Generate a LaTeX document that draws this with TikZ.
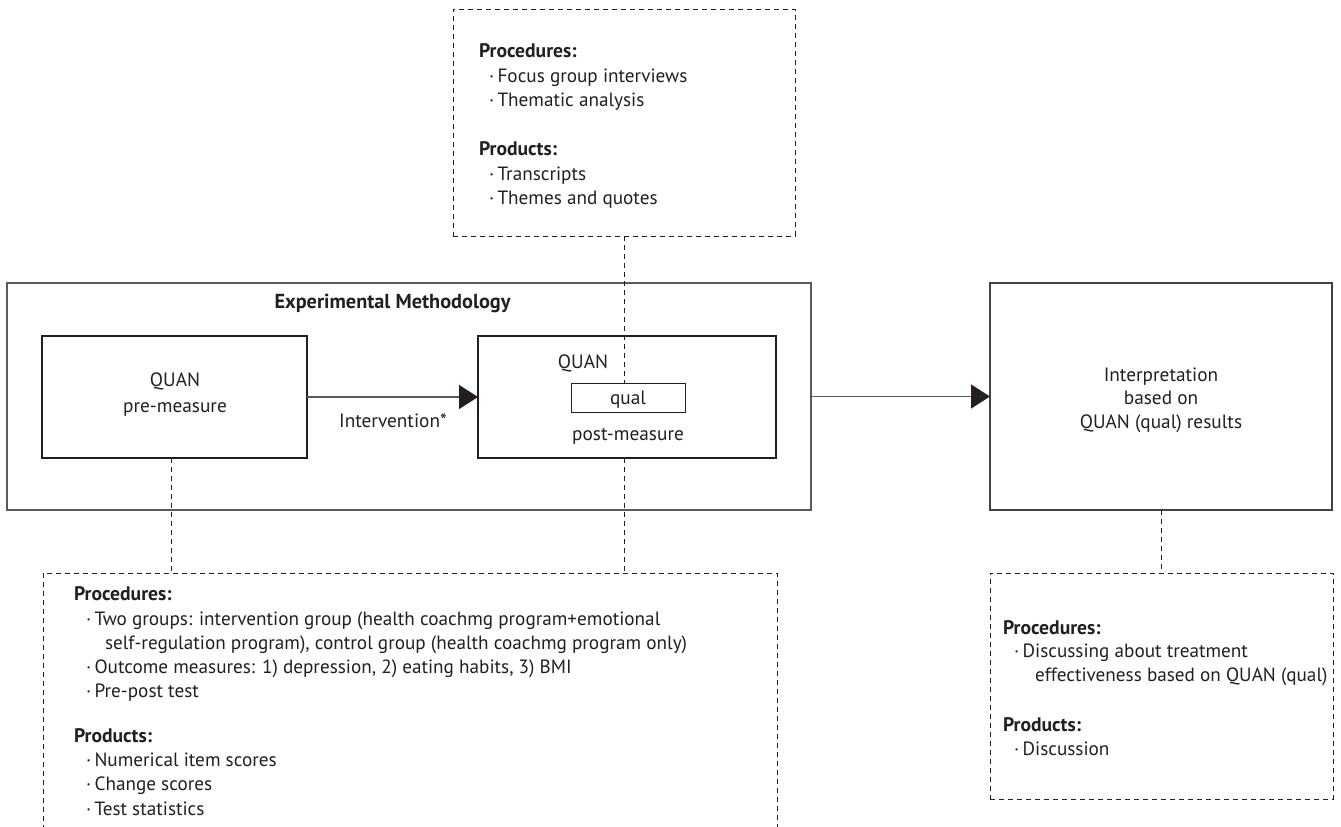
\documentclass[tikz,border=0pt]{standalone}
\usepackage{fontspec}
\setmainfont{PT Sans}
\usetikzlibrary{arrows.meta}
\definecolor{ink}{HTML}{231F20}
\definecolor{frame}{HTML}{58595B}
\newcommand{\bul}{\textperiodcentered\hspace{0.18em}}
\begin{document}
\begin{tikzpicture}[x=1pt,y=-1pt,
  every node/.style={inner sep=0pt, outer sep=0pt, text=ink},
  solidbox/.style={draw=ink, line width=1.1pt},
  graybox/.style={draw=frame, line width=1.3pt},
  dashbox/.style={draw=ink, line width=0.9pt, dash pattern=on 5pt off 4pt},
  dashline/.style={draw=ink, line width=0.9pt, dash pattern=on 5pt off 4pt},
  flow/.style={draw=frame, line width=1.3pt, -{Triangle[length=19pt,width=24pt,color=ink]}},
  boxtext/.style={font=\fontsize{19.3}{23}\selectfont, anchor=base},
  listtext/.style={font=\fontsize{19.2}{23}\selectfont, anchor=base west},
  headtext/.style={font=\fontsize{19.6}{23}\selectfont\bfseries, anchor=base west},
  titletext/.style={font=\fontsize{20.3}{24}\selectfont\bfseries, anchor=base}
]
\useasboundingbox (0,0) rectangle (1341,827);

% ---------- main boxes ----------
\node[graybox, minimum width=804pt, minimum height=227pt] (exp) at (409,396.5) {};
\node[titletext] (exptitle) at (392.5,308) {Experimental Methodology};

\node[solidbox, minimum width=265pt, minimum height=122pt] (pre) at (174.5,397) {};
\node[boxtext] (preq) at (175,386) {QUAN};
\node[boxtext] (prem) at (175,412) {pre-measure};

\node[solidbox, minimum width=298pt, minimum height=122pt] (post) at (627,397) {};
\node[boxtext] (postq) at (583,368) {QUAN};
\node[solidbox, line width=0.9pt, minimum width=114pt, minimum height=29pt] (qual) at (628,397.5) {};
\node[boxtext] (qualt) at (628,404) {qual};
\node[boxtext] (postm) at (628,440) {post-measure};

\node[boxtext] (interv) at (393,427) {Intervention*};

\node[graybox, draw=ink!85, minimum width=342pt, minimum height=227pt] (interp) at (1161,396.5) {};
\node[boxtext] (int1) at (1161,381) {Interpretation};
\node[boxtext] (int2) at (1161,404) {based on};
\node[boxtext] (int3) at (1161,428) {QUAN (qual) results};

% ---------- arrows ----------
\draw[flow] (pre.east) -- (post.west);
\draw[flow] (exp.east) -- (interp.west);

% ---------- top dashed box ----------
\node[dashbox, minimum width=342pt, minimum height=227pt] (topbox) at (624,122.5) {};
\node[headtext] (tp1) at (479,57) {Procedures:};
\node[listtext] (tp2) at (489,82) {\bul Focus group interviews};
\node[listtext] (tp3) at (489,106) {\bul Thematic analysis};
\node[headtext] (tp4) at (479,155) {Products:};
\node[listtext] (tp5) at (489,180) {\bul Transcripts};
\node[listtext] (tp6) at (489,204) {\bul Themes and quotes};

% ---------- bottom-left dashed box (open at bottom) ----------
\coordinate (blTL) at (43,573);
\coordinate (blTR) at (777,573);
\coordinate (blBL) at (43,830);
\coordinate (blBR) at (777,830);
\draw[dashline] (blBL) -- (blTL) -- (blTR) -- (blBR);
\node[headtext] (bl1) at (74,600) {Procedures:};
\node[listtext] (bl2) at (86,625) {\bul Two groups: intervention group (health coachmg program+emotional};
\node[listtext] (bl3) at (105,649) {self-regulation program), control group (health coachmg program only)};
\node[listtext] (bl4) at (86,673) {\bul Outcome measures: 1) depression, 2) eating habits, 3) BMI};
\node[listtext] (bl5) at (86,697) {\bul Pre-post test};
\node[headtext] (bl6) at (74,742) {Products:};
\node[listtext] (bl7) at (86,766) {\bul Numerical item scores};
\node[listtext] (bl8) at (86,790) {\bul Change scores};
\node[listtext] (bl9) at (86,815) {\bul Test statistics};

% ---------- bottom-right dashed box ----------
\node[dashbox, minimum width=343pt, minimum height=226pt] (brbox) at (1161.5,686) {};
\node[headtext] (br1) at (1003,634) {Procedures:};
\node[listtext] (br2) at (1014,657) {\bul Discussing about treatment};
\node[listtext] (br3) at (1035,681) {effectiveness based on QUAN (qual)};
\node[headtext] (br4) at (1003,731) {Products:};
\node[listtext] (br5) at (1014,755) {\bul Discussion};

% ---------- dashed connectors ----------
\coordinate (xl) at (171,0);
\coordinate (xm) at (624,0);
\draw[dashline] (pre.south -| xl) -- (blTL -| xl);
\draw[dashline] (topbox.south -| xm) -- (qual.north -| xm);
\draw[dashline] (post.south -| xm) -- (blTL -| xm);
\draw[dashline] (interp.south) -- (brbox.north -| interp.south);
\end{tikzpicture}
\end{document}
